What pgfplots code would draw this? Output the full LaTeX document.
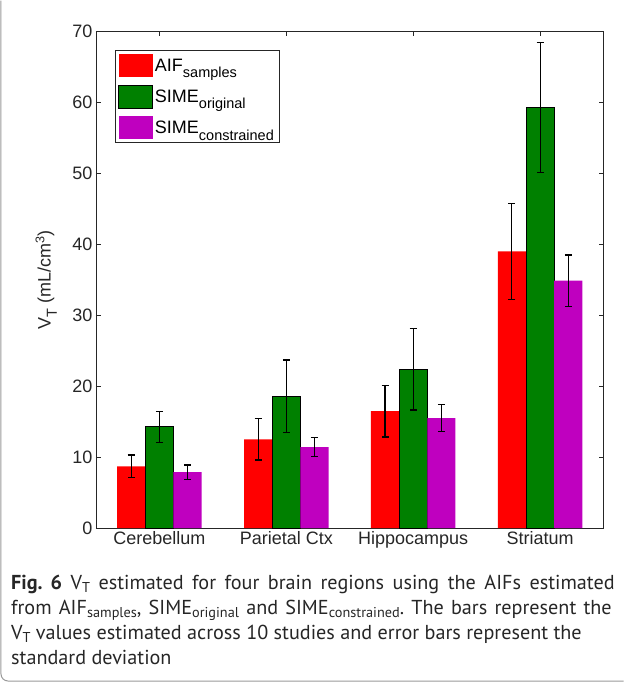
\documentclass[border=0pt]{standalone}
\usepackage{pgfplots}
\pgfplotsset{compat=1.18}
\usepackage{fontspec}
\setmainfont{Liberation Sans}
\newfontfamily\capfont{PT Sans}
\frenchspacing
\definecolor{mred}{rgb}{1,0,0}
\definecolor{mgreen}{rgb}{0,0.5,0}
\definecolor{mmag}{rgb}{0.75,0,0.75}
\definecolor{axgray}{rgb}{0.15,0.15,0.15}
\definecolor{framegray}{rgb}{0.6,0.6,0.6}
\newcommand{\lsub}[1]{\raisebox{-0.65ex}{\fontsize{14.5}{14.5}\selectfont #1}}
\newcommand{\csub}[1]{\raisebox{-0.35ex}{\fontsize{14.3}{14.3}\selectfont #1}}
\pgfplotsset{
  mylegend/.style={legend image code/.code={\fill[##1] (0pt,-11pt) rectangle (34pt,12pt);}},
  mylegendd/.style={legend image code/.code={\filldraw[##1] (0pt,-11pt) rectangle (34pt,12pt);}},
  myerr/.style={error bars/.cd, y dir=both, y explicit,
    error bar style={draw=black, solid, line width=1.1pt},
    error mark options={draw=black, solid, line width=1.1pt, mark size=3.5pt, rotate=90}},
}
\begin{document}
\begin{tikzpicture}[x=1pt,y=1pt]
\path (0,0) rectangle (624,-683);
\draw[framegray, line width=1pt, rounded corners=7pt] (1,0) -- (1,-681) -- (624,-681);
\begin{axis}[
  at={(96pt,-528pt)}, anchor=south west,
  scale only axis, width=508pt, height=497pt,
  xmin=0.5, xmax=4.5, ymin=0, ymax=70,
  ybar, bar width=0.222,
  xtick={1,2,3,4}, xticklabels={Cerebellum,Parietal Ctx,Hippocampus,Striatum},
  ytick={0,10,...,70},
  tick align=inside, major tick length=5pt,
  axis line style={axgray, line width=0.8pt},
  tick style={axgray, line width=0.8pt},
  ticklabel style={font=\fontsize{18}{20}\selectfont, text=axgray},
  /pgf/number format/assume math mode=true,
  ylabel={V\lsub{T} (mL/cm\textsuperscript{3})},
  ylabel style={at={(axis description cs:-0.098,0.5)}, anchor=center, font=\fontsize{18}{20}\selectfont, text=axgray},
  legend style={at={(axis description cs:0.0374,0.962)}, anchor=north west,
    draw=axgray, line width=0.6pt, font=\fontsize{18}{20}\selectfont,
    inner xsep=3pt, inner ysep=3pt, row sep=8pt, cells={anchor=west},
    legend cell align=left},
]
\addplot[fill=mred, draw=none, bar shift=-0.222, mylegend, myerr] coordinates {
  (1,8.7) +- (0,1.6)
  (2,12.5) +- (0,2.9)
  (3,16.5) +- (0,3.65)
  (4,39.0) +- (0,6.8)
};
\addplot[fill=mgreen, draw=black, line width=0.8pt, bar shift=0, mylegendd, myerr] coordinates {
  (1,14.3) +- (0,2.2)
  (2,18.6) +- (0,5.1)
  (3,22.4) +- (0,5.75)
  (4,59.3) +- (0,9.2)
};
\addplot[fill=mmag, draw=none, bar shift=0.222, mylegend, myerr] coordinates {
  (1,7.9) +- (0,1.0)
  (2,11.4) +- (0,1.35)
  (3,15.5) +- (0,1.9)
  (4,34.9) +- (0,3.6)
};
\legend{AIF\lsub{samples}, SIME\lsub{original}, SIME\lsub{constrained}}
\end{axis}
\begin{scope}[every node/.style={anchor=base west, inner sep=0pt, font=\capfont\fontsize{20.2}{24}\selectfont, text=black!85}]
\node at (11,-589) {\makebox[604pt][s]{\textbf{Fig.~6} V\csub{T} estimated for four brain regions using the AIFs estimated}};
\node at (11,-614) {\makebox[601pt][s]{from AIF\csub{samples}, SIME\csub{original} and SIME\csub{constrained}. The bars represent the}};
\node at (11,-639) {V\csub{T} values estimated across 10 studies and error bars represent the};
\node at (11,-664) {standard deviation};
\end{scope}
\end{tikzpicture}
\end{document}
